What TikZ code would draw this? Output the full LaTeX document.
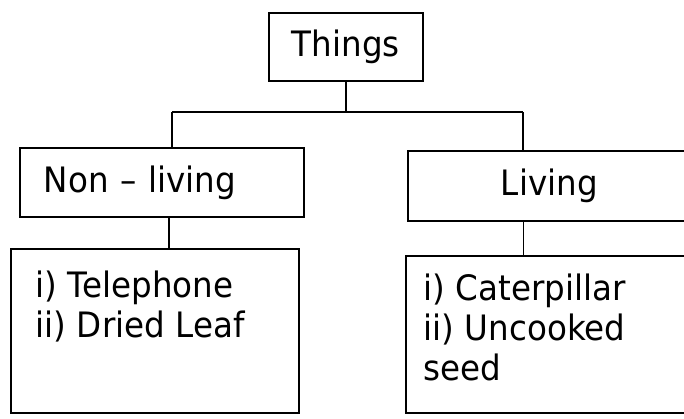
\documentclass[tikz,border=0pt]{standalone}
\usepackage{fontspec}
\setmainfont[FakeStretch=0.93]{DejaVu Sans}
\usetikzlibrary{calc}
\begin{document}
\begin{tikzpicture}[x=1pt,y=-1pt,
  every node/.style={font=\fontsize{35}{40}\selectfont},
  box/.style={draw, line width=1.7pt, rectangle, anchor=north west, inner sep=0pt},
  conn/.style={line width=1.7pt}]
\useasboundingbox (0,0) rectangle (684,418);
\clip (0,0) rectangle (684,418);
% boxes
\node[box, minimum width=154pt, minimum height=68pt] (things) at (268,12) {Things};
\node[box, minimum width=284pt, minimum height=69pt, text width=236pt, inner xsep=24pt, align=left] (nonliving) at (19,147) {Non -- living};
\node[box, minimum width=283pt, minimum height=70pt] (living) at (407,150) {Living};
\node[box, minimum width=288pt, minimum height=164pt, inner xsep=25pt] (leftlist) at (10,248)
  {\parbox[c][164pt][t]{238pt}{\vspace*{22pt}\raggedright i) Telephone\\ii) Dried Leaf}};
\node[box, minimum width=285pt, minimum height=157pt, inner xsep=18pt] (rightlist) at (405,255)
  {\parbox[c][157pt][t]{249pt}{\vspace*{18pt}\raggedright i) Caterpillar\\ii) Uncooked\\seed}};
% connectors
\coordinate (jl) at (172,112);
\coordinate (jr) at (523,112);
\draw[conn] (things.south) -- (things.south |- jl);
\draw[conn] (jl) -- (jr);
\draw[conn] (jl) -- (jl |- nonliving.north);
\draw[conn] (jr) -- (jr |- living.north);
\draw[conn] ([xshift=7pt]nonliving.south) -- ([xshift=7pt]nonliving.south |- leftlist.north);
\draw[conn] ([xshift=-26pt]living.south) -- ([xshift=-26pt]living.south |- rightlist.north);
\end{tikzpicture}
\end{document}
